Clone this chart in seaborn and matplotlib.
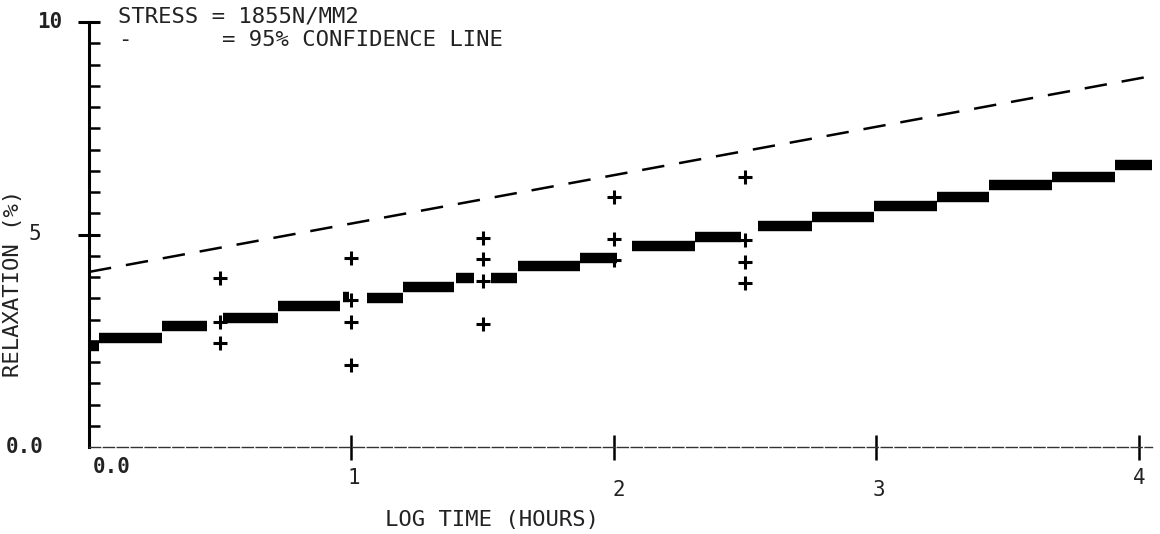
import numpy as np
import pandas as pd
import matplotlib
matplotlib.use('Agg')
import matplotlib.pyplot as plt
import matplotlib.transforms as mtransforms
import seaborn as sns

# staircase segments (log time start, end, relaxation %)
step_x0 = [0.00, 0.04, 0.28, 0.51, 0.72, 0.967, 1.06, 1.195, 1.40, 1.53, 1.635,
           1.87, 2.07, 2.31, 2.55, 2.755, 2.99, 3.23, 3.43, 3.67, 3.91]
step_x1 = [0.04, 0.28, 0.45, 0.72, 0.955, 0.99, 1.195, 1.39, 1.465, 1.63, 1.87,
           2.01, 2.31, 2.485, 2.755, 2.99, 3.23, 3.43, 3.67, 3.91, 4.05]
step_y = [2.38, 2.56, 2.85, 3.04, 3.32, 3.53, 3.51, 3.76, 3.98, 3.98, 4.26,
          4.45, 4.74, 4.94, 5.21, 5.41, 5.68, 5.88, 6.16, 6.35, 6.64]

# individual test points
pt_x = [0.5, 0.5, 0.5,
        1.0, 1.0, 1.0, 1.0,
        1.5, 1.5, 1.5, 1.5,
        2.0, 2.0, 2.0,
        2.5, 2.5, 2.5, 2.5]
pt_y = [3.98, 2.94, 2.45,
        4.45, 3.46, 2.94, 1.93,
        4.92, 4.42, 3.91, 2.89,
        5.88, 4.89, 4.40,
        6.35, 4.87, 4.35, 3.86]

# 95% confidence line
conf_x = [0.0, 4.05]
conf_y = [4.12, 8.73]

x_labels = ['0.0', '1', '2', '3', '4']
y_labels = ['0.0', '5', '10']

sns.set_style('white')
plt.rcParams['font.family'] = ['DejaVu Sans Mono', 'DejaVu Sans']

W, H = 1160, 534
fig = plt.figure(figsize=(W / 100, H / 100), dpi=100)
ax = fig.add_axes([89 / W, (H - 447) / H, (1152 - 89) / W, (447 - 22) / H])

steps = pd.DataFrame({
    'step': np.repeat(np.arange(len(step_y)), 2),
    'x': np.ravel(np.column_stack([step_x0, step_x1])),
    'y': np.repeat(step_y, 2),
})
sns.lineplot(data=steps, x='x', y='y', units='step', estimator=None,
             color='black', linewidth=7.5, solid_capstyle='butt', ax=ax)

pts = pd.DataFrame({'x': pt_x, 'y': pt_y})
sns.scatterplot(data=pts, x='x', y='y', marker='+', s=110, linewidth=2.2,
                color='black', ax=ax)

conf = pd.DataFrame({'x': conf_x, 'y': conf_y})
sns.lineplot(data=conf, x='x', y='y', color='black', linewidth=1.8,
             dashes=False, ax=ax).lines[-1].set_dashes((9, 6))

ax.set_xlim(0, 4.05)
ax.set_ylim(0, 10)
ax.set_xlabel('')
ax.set_ylabel('')

for s in ['top', 'right']:
    ax.spines[s].set_visible(False)
ax.spines['left'].set_linewidth(2.2)
ax.spines['left'].set_color('black')
ax.spines['bottom'].set_linewidth(1.0)
ax.spines['bottom'].set_color('#333333')
ax.spines['bottom'].set_linestyle((0, (8, 2)))

ax.set_xticks([1, 2, 3, 4])
ax.set_xticklabels([])
ax.tick_params(axis='x', which='major', direction='inout', length=18,
               width=1.8, color='black', bottom=True)
ax.set_yticks([5, 10])
ax.set_yticks([v for v in np.arange(0.5, 10, 0.5) if v != 5], minor=True)
ax.set_yticklabels([])
ax.tick_params(axis='y', which='major', direction='inout', length=16,
               width=2.2, color='black', left=True)
ax.tick_params(axis='y', which='minor', direction='in', length=8,
               width=1.8, color='black', left=True)

txt = dict(color='#222222')
# tick labels placed by hand, as on the plotter output
ytrans = mtransforms.blended_transform_factory(fig.transFigure, ax.transData)
ax.text(25 / W, 0, y_labels[0], transform=ytrans, ha='center', va='center',
        fontweight='bold', fontsize=15, **txt)
ax.text(35 / W, 5, y_labels[1], transform=ytrans, ha='center', va='center',
        fontsize=15, **txt)
ax.text(50 / W, 10, y_labels[2], transform=ytrans, ha='center', va='center',
        fontweight='bold', fontsize=15, **txt)

xtrans = mtransforms.blended_transform_factory(ax.transData, fig.transFigure)
x_pos = [0.087, 1.01, 2.02, 3.01, 4.0]
x_py = [467, 478, 490, 490, 478]
for lab, xp, py in zip(x_labels, x_pos, x_py):
    ax.text(xp, 1 - py / H, lab, transform=xtrans, ha='center', va='center',
            fontweight='bold' if lab == '0.0' else 'normal', fontsize=15, **txt)

fig.text(492 / W, 1 - 520 / H, 'LOG TIME (HOURS)', ha='center', va='center',
         fontsize=16, **txt)
fig.text(13 / W, 1 - 283 / H, 'RELAXATION (%)', rotation=90, ha='center',
         va='center', fontsize=16, **txt)

fig.text(118 / W, 1 - 17 / H, 'STRESS = 1855N/MM2', ha='left', va='center',
         fontsize=16, **txt)
fig.text(118 / W, 1 - 40 / H, '-', ha='left', va='center', fontsize=16, **txt)
fig.text(222 / W, 1 - 40 / H, '= 95% CONFIDENCE LINE', ha='left', va='center',
         fontsize=16, **txt)

fig.savefig('out.png', dpi=100)
plt.close(fig)
